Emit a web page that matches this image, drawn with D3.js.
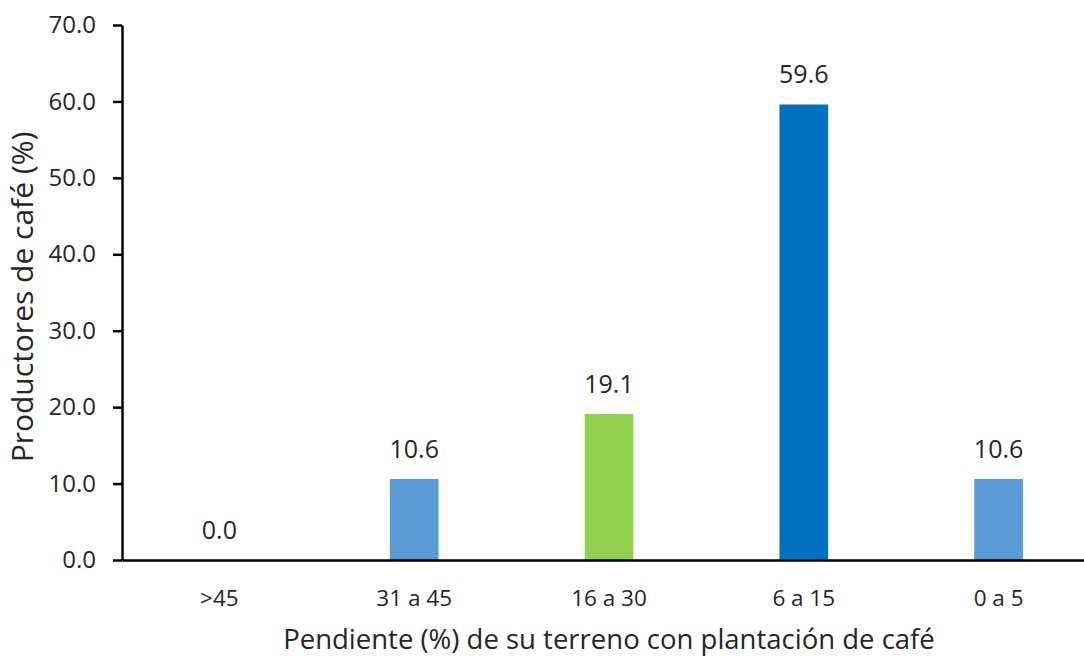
<!DOCTYPE html>
<html><head><meta charset="utf-8">
<script src="https://cdn.jsdelivr.net/npm/d3@7"></script>
<style>
html,body{margin:0;padding:0;background:#fff;}
svg text{font-family:"Open Sans",sans-serif;fill:#262626;}
</style></head>
<body><svg id="c" width="1084" height="657"></svg>
<script>
const categories = [">45", "31 a 45", "16 a 30", "6 a 15", "0 a 5"];
const values = [0.0, 10.6, 19.1, 59.6, 10.6];
const barColors = ["#5B9BD5", "#5B9BD5", "#92D050", "#0070C0", "#5B9BD5"];
const yTicks = [0, 10, 20, 30, 40, 50, 60, 70];
const yTitle = "Productores de café (%)";
const xTitle = "Pendiente (%) de su terreno con plantación de café";

(function () {
const svg = d3.select("#c");
const mLeft = 122, mRight = 1096, mTop = 25, mBottom = 560;

const x = d3.scaleBand().domain(categories).range([mLeft, mRight]).paddingInner(0.75).paddingOuter(0.375);
const y = d3.scaleLinear().domain([0, 70]).range([mBottom, mTop]);

// bars
svg.selectAll("rect.bar").data(values).enter().append("rect")
  .attr("class", "bar")
  .attr("x", (d, i) => x(categories[i]))
  .attr("width", x.bandwidth())
  .attr("y", d => y(d))
  .attr("height", d => y(0) - y(d))
  .attr("fill", (d, i) => barColors[i]);

// value labels
svg.selectAll("text.val").data(values).enter().append("text")
  .attr("class", "val")
  .attr("x", (d, i) => x(categories[i]) + x.bandwidth() / 2)
  .attr("y", d => y(d) - 21)
  .attr("text-anchor", "middle")
  .attr("font-size", 25)
  .text(d => d.toFixed(1));

// y axis
const yAxis = svg.append("g").attr("transform", `translate(${mLeft},0)`)
  .call(d3.axisLeft(y).tickValues(yTicks).tickFormat(d3.format(".1f")).tickSize(9).tickSizeOuter(0).tickPadding(17));
yAxis.select(".domain").attr("stroke", "#000").attr("stroke-width", 2.5);
yAxis.selectAll(".tick line").attr("stroke", "#000").attr("stroke-width", 2.5);
yAxis.selectAll(".tick text").attr("font-size", 24).attr("fill", "#262626").attr("font-family", "Open Sans");

// x axis
const xAxis = svg.append("g").attr("transform", `translate(0,${mBottom})`)
  .call(d3.axisBottom(x).tickSize(0).tickSizeOuter(0).tickPadding(30));
xAxis.select(".domain").attr("stroke", "#000").attr("stroke-width", 2.5);
xAxis.selectAll(".tick text").attr("font-size", 22.5).attr("fill", "#262626").attr("font-family", "Open Sans");

// titles
svg.append("text")
  .attr("transform", `translate(33,297) rotate(-90)`)
  .attr("text-anchor", "middle")
  .attr("font-size", 30)
  .text(yTitle);

svg.append("text")
  .attr("x", (mLeft + mRight) / 2).attr("y", 649)
  .attr("text-anchor", "middle")
  .attr("font-size", 27.5)
  .text(xTitle);
})();
</script></body></html>
